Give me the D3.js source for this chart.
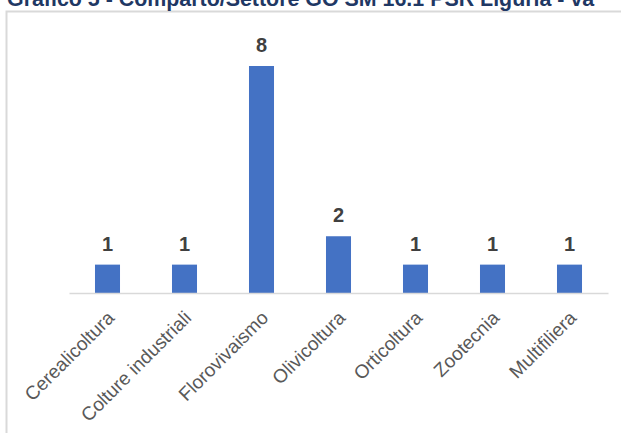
<!DOCTYPE html>
<html>
<head>
<meta charset="utf-8">
<script src="https://cdn.jsdelivr.net/npm/d3@7"></script>
<style>
  html, body { margin: 0; padding: 0; background: #ffffff; }
  svg { display: block; }
</style>
</head>
<body>
<svg id="chart" width="621" height="433"></svg>
<script>
// Progetti GO per comparto/settore
const categories = ["Cerealicoltura", "Colture industriali", "Florovivaismo", "Olivicoltura", "Orticoltura", "Zootecnia", "Multifiliera"];
const values = [1, 1, 8, 2, 1, 1, 1];
const titleText = "Grafico 5 - Comparto/Settore GO SM 16.1 PSR Liguria - va";

const svg = d3.select("#chart");

// chart area frame
svg.append("rect")
  .attr("x", 6.5).attr("y", 11.5)
  .attr("width", 640).attr("height", 440)
  .attr("fill", "#ffffff")
  .attr("stroke", "#d9d9d9")
  .attr("stroke-width", 2);

// title (runs above the top edge)
svg.append("text")
  .attr("x", 7).attr("y", 5.5)
  .attr("font-family", "Liberation Sans, Arial, sans-serif")
  .attr("font-weight", "bold")
  .attr("font-size", 21.4)
  .attr("fill", "#1f3864")
  .text(titleText);

const x = d3.scaleBand()
  .domain(categories)
  .range([69, 608])
  .paddingInner(0.675)
  .paddingOuter(0.3375);

const y = d3.scaleLinear()
  .domain([0, 8])
  .range([293, 66]);

// bars
svg.append("g").selectAll("rect")
  .data(categories)
  .join("rect")
  .attr("x", d => x(d))
  .attr("y", (d, i) => y(values[i]))
  .attr("width", x.bandwidth())
  .attr("height", (d, i) => y(0) - y(values[i]))
  .attr("fill", "#4472c4");

// category axis
const xAxis = svg.append("g")
  .attr("transform", `translate(0,${y(0)})`)
  .call(d3.axisBottom(x).tickSize(0).tickPadding(0));
xAxis.select(".domain")
  .attr("stroke", "#d9d9d9")
  .attr("stroke-width", 1.5);
xAxis.selectAll(".tick text")
  .attr("font-family", "Liberation Sans, Arial, sans-serif")
  .attr("font-size", 19)
  .attr("fill", "#595959")
  .attr("text-anchor", "end")
  .attr("dy", null)
  .attr("y", 0)
  .attr("transform", "translate(8,26) rotate(-45)");

// value labels
svg.append("g").selectAll("text")
  .data(categories)
  .join("text")
  .attr("x", d => x(d) + x.bandwidth() / 2)
  .attr("y", (d, i) => y(values[i]) - 14)
  .attr("text-anchor", "middle")
  .attr("font-family", "Liberation Sans, Arial, sans-serif")
  .attr("font-weight", "bold")
  .attr("font-size", 20)
  .attr("fill", "#404040")
  .text((d, i) => values[i]);
</script>
</body>
</html>
